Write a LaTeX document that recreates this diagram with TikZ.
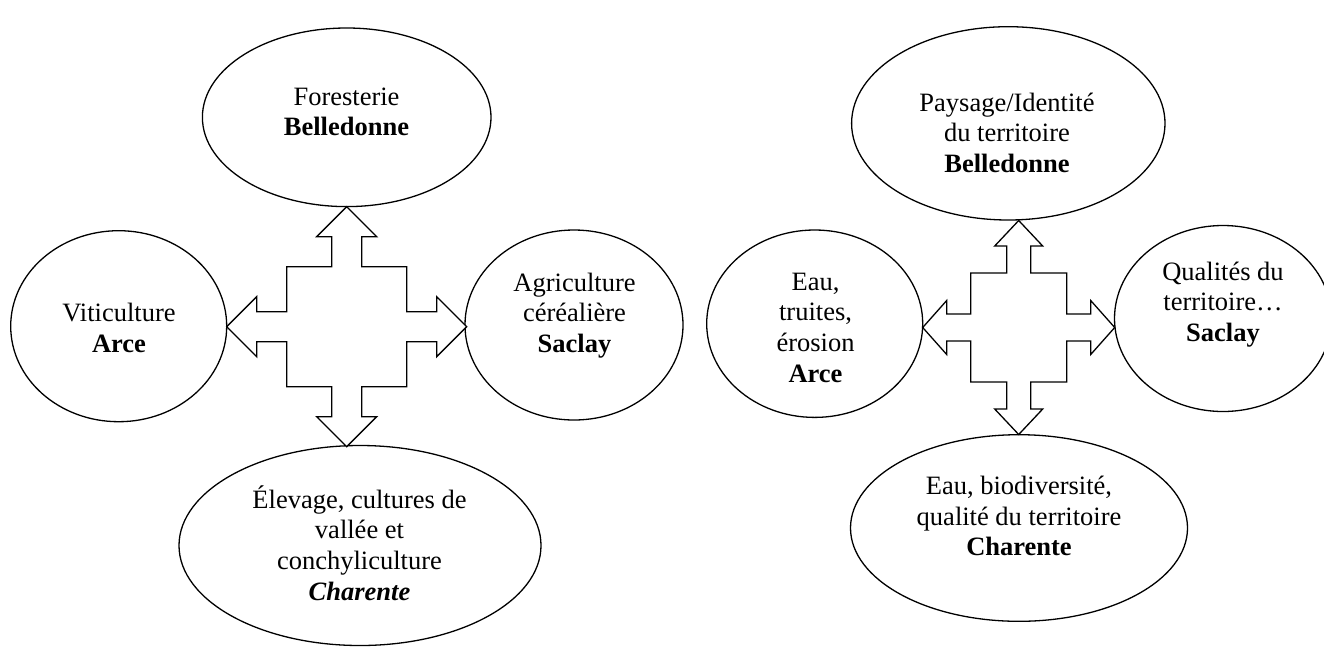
\documentclass[tikz,border=0pt]{standalone}
\usepackage{fontspec}
\setmainfont{Liberation Serif}
\usetikzlibrary{shapes.geometric}
\newcommand{\lns}[1]{\begin{tabular}[t]{@{}c@{}}#1\end{tabular}}
\tikzset{
  ell/.style={draw=black, line width=1.3pt, ellipse, inner sep=0pt, fill=white},
  txt/.style={inner sep=0pt, anchor=base, font=\fontsize{26.5}{30.7}\selectfont},
  xarrow/.style={draw=black, line width=1.3pt, line join=miter, fill=white}
}
\begin{document}
\begin{tikzpicture}[x=1pt, y=-1pt]
\useasboundingbox[fill=white] (0,0) rectangle (1324,646);

% ---------- left diagram ----------
\node[ell, minimum width=288.6pt, minimum height=178.6pt] (LT) at (346.7,117.3) {};
\node[ell, minimum width=216pt, minimum height=191pt] (LL) at (118.7,326.2) {};
\node[ell, minimum width=218pt, minimum height=190pt] (LR) at (574,325) {};
\node[ell, minimum width=362pt, minimum height=200pt] (LB) at (360,545.5) {};

\coordinate (LC) at (346.7,326.7);
\draw[xarrow, shift={(LC)}]
  (0,-120) -- (30,-90) -- (15,-90) -- (15,-60) -- (60,-60) -- (60,-15) -- (90,-15) -- (90,-30)
  -- (120,0) -- (90,30) -- (90,15) -- (60,15) -- (60,60) -- (15,60) -- (15,90) -- (30,90)
  -- (0,120) -- (-30,90) -- (-15,90) -- (-15,60) -- (-60,60) -- (-60,15) -- (-90,15) -- (-90,30)
  -- (-120,0) -- (-90,-30) -- (-90,-15) -- (-60,-15) -- (-60,-60) -- (-15,-60) -- (-15,-90) -- (-30,-90)
  -- cycle;

\node[txt] (tLT) at (346.5,105) {\lns{Foresterie\\\textbf{Belledonne}}};
\node[txt] (tLL) at (119,321.7) {\lns{Viticulture\\\textbf{Arce}}};
\node[txt] (tLR) at (574.5,291) {\lns{Agriculture\\céréalière\\\textbf{Saclay}}};
\node[txt] (tLB) at (359.5,508) {\lns{Élevage, cultures de\\vallée et\\conchyliculture\\\textbf{\textit{Charente}}}};

% ---------- right diagram ----------
\node[ell, minimum width=313.4pt, minimum height=193.3pt] (RT) at (1008.3,123.35) {};
\node[ell, minimum width=216pt, minimum height=187.4pt] (RL) at (814.7,323.7) {};
\node[ell, minimum width=217pt, minimum height=186pt] (RR) at (1223,318.5) {};
\node[ell, minimum width=337pt, minimum height=186.6pt] (RB) at (1019,528) {};

\coordinate (RC) at (1018.7,327.5);
\draw[xarrow, shift={(RC)}]
  (0,-107) -- (24,-81.5) -- (12,-81.5) -- (12,-54.5) -- (48,-54.5) -- (48,-13.5) -- (72,-13.5) -- (72,-27)
  -- (96,0) -- (72,27) -- (72,13.5) -- (48,13.5) -- (48,54.5) -- (12,54.5) -- (12,81.5) -- (24,81.5)
  -- (0,107) -- (-24,81.5) -- (-12,81.5) -- (-12,54.5) -- (-48,54.5) -- (-48,13.5) -- (-72,13.5) -- (-72,27)
  -- (-96,0) -- (-72,-27) -- (-72,-13.5) -- (-48,-13.5) -- (-48,-54.5) -- (-12,-54.5) -- (-12,-81.5) -- (-24,-81.5)
  -- cycle;

\node[txt] (tRT) at (1007,111) {\lns{Paysage/Identité\\du territoire\\\textbf{Belledonne}}};
\node[txt] (tRL) at (815.5,290) {\lns{Eau,\\truites,\\érosion\\\textbf{Arce}}};
\node[txt] (tRR) at (1223,280) {\lns{Qualités du\\territoire…\\\textbf{Saclay}}};
\node[txt] (tRB) at (1019,494.4) {\lns{Eau, biodiversité,\\qualité du territoire\\\textbf{Charente}}};
\end{tikzpicture}
\end{document}
